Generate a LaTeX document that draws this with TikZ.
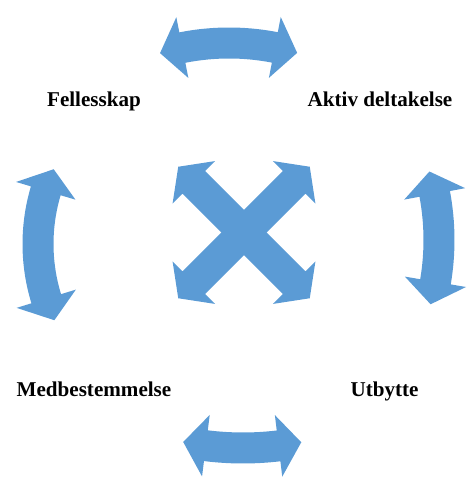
\documentclass[tikz,border=0pt]{standalone}
\usepackage{fontspec}
\setmainfont{Liberation Serif}
\definecolor{arrowblue}{HTML}{5B9BD5}
\tikzset{
  arrowfill/.style={fill=arrowblue},
  label/.style={font=\fontsize{12}{14}\selectfont\bfseries, inner sep=0pt, anchor=base}
}
% body half-width, head half-width, head length
\def\bw{15.5}
\def\hw{31}
\def\hl{23}
% curved double arrow: #1 centre, #2 radius, #3 start angle, #4 end angle
\newcommand\arcarrow[4]{%
  \pgfmathsetmacro\da{\hl/#2*180/pi}%
  \pgfmathsetmacro\sa{#3+\da}%
  \pgfmathsetmacro\ea{#4-\da}%
  \pgfmathsetmacro\rin{#2-\bw}%
  \pgfmathsetmacro\rout{#2+\bw}%
  \pgfmathsetmacro\hin{#2-\hw}%
  \pgfmathsetmacro\hout{#2+\hw}%
  \fill[arrowfill, shift={#1}]
    (#3:#2) -- (\sa:\hin) -- (\sa:\rin)
    arc[start angle=\sa, end angle=\ea, radius=\rin]
    -- (\ea:\hin) -- (#4:#2) -- (\ea:\hout) -- (\ea:\rout)
    arc[start angle=\ea, end angle=\sa, radius=\rout]
    -- (\sa:\hout) -- cycle;
}
\begin{document}
\begin{tikzpicture}[x=0.02cm, y=0.02cm]
  \useasboundingbox (0,0) rectangle (473,480);

  % four curved double arrows around the edge
  \arcarrow{(229,197)}{240}{73.5}{106.7}
  \arcarrow{(243,332)}{300}{-101.5}{-78.8}
  \arcarrow{(224,236)}{186}{156.3}{204.2}
  \arcarrow{(189,240)}{250}{-14.9}{15.9}

  % crossed double arrows in the centre
  \foreach \r in {45,135} {
    \fill[arrowfill, shift={(244,247.5)}, rotate=\r]
      (-93,0) -- (-71,30) -- (-71,16) -- (71,16) -- (71,30) -- (93,0)
      -- (71,-30) -- (71,-16) -- (-71,-16) -- (-71,-30) -- cycle;
  }

  % labels
  \node[label] (fellesskap) at (94,373) {Fellesskap};
  \node[label] (aktiv) at (380,373) {Aktiv deltakelse};
  \node[label] (medbest) at (94,83) {Medbestemmelse};
  \node[label] (utbytte) at (384.5,83) {Utbytte};
\end{tikzpicture}
\end{document}
